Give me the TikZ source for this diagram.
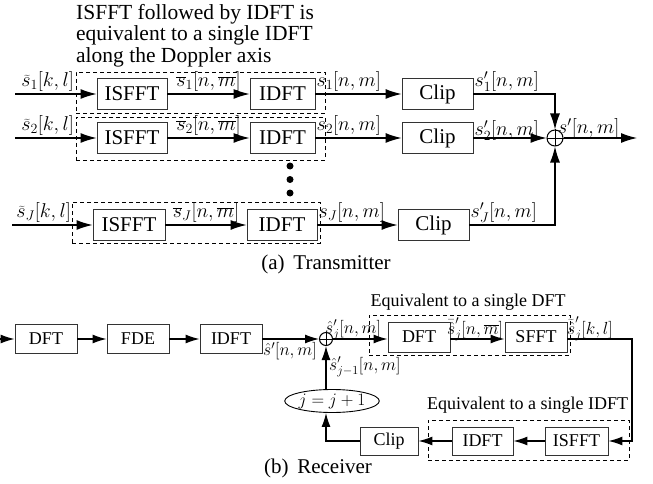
\RequirePackage{fix-cm}
\documentclass[tikz,border=0pt]{standalone}
\usepackage{fontspec}
\setmainfont{Liberation Serif}
\usetikzlibrary{arrows.meta,shapes.geometric,calc}
\begin{document}
\begin{tikzpicture}[x=1pt,y=-1pt,
  blk/.style={draw=black!80,line width=0.9pt,minimum height=31pt,inner sep=0pt,font=\fontsize{21}{21}\selectfont},
  rblk/.style={draw=black!80,line width=0.9pt,minimum height=29pt,inner sep=0pt,font=\fontsize{18}{18}\selectfont},
  grp/.style={draw,dash pattern=on 4pt off 3pt,line width=0.8pt,inner sep=0pt},
  ln/.style={line width=1.2pt},
  arr/.style={ln,-{Latex[length=16pt,width=10pt]}},
  rarr/.style={ln,-{Latex[length=14pt,width=9pt]}},
  lab/.style={inner sep=1pt,font=\fontsize{20}{20}\selectfont},
  rlab/.style={inner sep=1pt,font=\fontsize{17.5}{17.5}\selectfont},
  ttl/.style={inner sep=0pt,font=\fontsize{18}{18}\selectfont},
  dot/.style={circle,fill,inner sep=0pt,minimum size=7pt},
]
\useasboundingbox (0,0) rectangle (653,484);

% ---------- Transmitter ----------
\node[anchor=north west,align=left,inner sep=0pt,font=\fontsize{21.5}{21.5}\selectfont] (hdr) at (76,4)
  {ISFFT followed by IDFT is\\equivalent to a single IDFT\\along the Doppler axis};

\node[grp,minimum width=249pt,minimum height=41pt] (g1) at (200.5,92.5) {};
\node[grp,minimum width=249pt,minimum height=43pt] (g2) at (200.5,138.5) {};
\node[grp,minimum width=248pt,minimum height=41pt] (gJ) at (196,222.5) {};

\node[blk,minimum width=70pt] (is1) at (132,94) {ISFFT};
\node[blk,minimum width=65pt] (id1) at (282.5,94) {IDFT};
\node[blk,minimum width=71pt] (cl1) at (437.5,94) {Clip};

\node[blk,minimum width=70pt] (is2) at (132,138) {ISFFT};
\node[blk,minimum width=65pt] (id2) at (282.5,138) {IDFT};
\node[blk,minimum width=71pt] (cl2) at (437.5,138) {Clip};

\node[blk,minimum width=72pt] (isJ) at (129,225) {ISFFT};
\node[blk,minimum width=70pt] (idJ) at (282,225) {IDFT};
\node[blk,minimum width=71pt] (clJ) at (433.5,225) {Clip};

\node[dot] (d1) at (290,166) {};
\node[dot] (d2) at (290,179.5) {};
\node[dot] (d3) at (290,193) {};

\coordinate (in1) at (15,94);
\coordinate (in2) at (15,138);
\coordinate (inJ) at (12,225);

\node[circle,draw,line width=1pt,minimum size=16pt,inner sep=0pt] (sum) at (555,138) {};
\draw[line width=0.8pt] (sum.north) -- (sum.south) (sum.west) -- (sum.east);
\coordinate (out) at (637,138);

\draw[arr] (in1) -- (is1);
\draw[arr] (is1) -- (id1);
\draw[arr] (id1) -- (cl1);
\draw[arr] (in2) -- (is2);
\draw[arr] (is2) -- (id2);
\draw[arr] (id2) -- (cl2);
\draw[arr] (inJ) -- (isJ);
\draw[arr] (isJ) -- (idJ);
\draw[arr] (idJ) -- (clJ);
\draw[arr] (cl1.east) -| (sum.north);
\draw[arr] (cl2) -- (sum);
\draw[arr] (clJ.east) -| (sum.south);
\draw[arr] (sum) -- (out);

\node[lab,anchor=south east] (li1) at (75,93) {$\widetilde{s}_1[k,l]$};
\node[lab,anchor=south east] (li2) at (75,137) {$\widetilde{s}_2[k,l]$};
\node[lab,anchor=south east] (liJ) at (72,224) {$\widetilde{s}_J[k,l]$};
\node[lab,anchor=south] (lb1) at ($(is1.east)!0.5!(id1.west)+(0,-1)$) {$\overline{s}_1[n,\overline{m}]$};
\node[lab,anchor=south] (lb2) at ($(is2.east)!0.5!(id2.west)+(0,-1)$) {$\overline{s}_2[n,\overline{m}]$};
\node[lab,anchor=south] (lbJ) at ($(isJ.east)!0.5!(idJ.west)+(0,-1)$) {$\overline{s}_J[n,\overline{m}]$};
\node[lab,anchor=south west] (ls1) at ([yshift=1pt]id1.east) {$s_1[n,m]$};
\node[lab,anchor=south west] (ls2) at ([yshift=1pt]id2.east) {$s_2[n,m]$};
\node[lab,anchor=south west] (lsJ) at ([yshift=1pt]idJ.east) {$s_J[n,m]$};
\node[lab,anchor=south west] (lc1) at ([yshift=1pt]cl1.east) {$s'_1[n,m]$};
\node[lab,anchor=south west] (lc2) at ([yshift=-4pt]cl2.east) {$s'_2[n,m]$};
\node[lab,anchor=south west] (lcJ) at ([yshift=1pt]clJ.east) {$s'_J[n,m]$};
\node[lab,anchor=south west] (lo) at (557,140) {$s'[n,m]$};

\node[inner sep=0pt,font=\fontsize{21}{21}\selectfont] (capa) at (326,264) {(a)~\,Transmitter};

% ---------- Receiver ----------
\coordinate (rin) at (0,339);
\node[rblk,minimum width=62pt] (dft) at (46,339) {DFT};
\node[rblk,minimum width=62pt] (fde) at (138,339) {FDE};
\node[rblk,minimum width=62pt] (idft) at (231,339) {IDFT};
\node[circle,draw,line width=1pt,minimum size=13pt,inner sep=0pt] (c2) at (326,339) {};
\draw[line width=0.8pt] (c2.north) -- (c2.south) (c2.west) -- (c2.east);

\node[grp,minimum width=201pt,minimum height=40pt] (gr1) at (469.5,335) {};
\node[ttl] (t1) at (468,302) {Equivalent to a single DFT};
\node[rblk,minimum width=62pt,minimum height=30pt] (dftr) at (419,337) {DFT};
\node[rblk,minimum width=62pt,minimum height=30pt] (sfft) at (536,337) {SFFT};

\node[grp,minimum width=201pt,minimum height=40pt] (gr2) at (528.5,440) {};
\node[ttl] (t2) at (527.5,405) {Equivalent to a single IDFT};
\node[rblk,minimum width=63pt,minimum height=28pt] (isr) at (576.5,441) {ISFFT};
\node[rblk,minimum width=61pt,minimum height=28pt] (idr) at (482.5,441) {IDFT};
\node[rblk,minimum width=58pt,minimum height=28pt] (clr) at (389,441) {Clip};

\node[ellipse,draw,line width=0.9pt,minimum width=92pt,minimum height=23pt,inner sep=0pt,font=\fontsize{17.5}{17.5}\selectfont] (ell) at (332,401) {$j=j+1$};

\coordinate (tr) at (632,339);
\coordinate (br) at (632,441);

\draw[rarr] (rin) -- (dft);
\draw[rarr] (dft) -- (fde);
\draw[rarr] (fde) -- (idft);
\draw[rarr] (idft) -- (c2);
\draw[rarr] (c2) -- (c2 -| dftr.west);
\draw[rarr] (dftr.east |- c2) -- (sfft.west |- c2);
\draw[rarr] (sfft.east |- c2) -- (tr) -- (br) -- (isr.east);
\draw[rarr] (isr) -- (idr);
\draw[rarr] (idr) -- (clr);
\draw[rarr] (clr.west) -| (c2 |- ell.south);
\draw[rarr] (c2 |- ell.north) -- (c2.south);

\node[rlab,anchor=north west] (lr1) at (262,341) {$\hat{s}'[n,m]$};
\node[rlab,anchor=south west] (lr2) at (324,341) {$\hat{s}'_j[n,m]$};
\node[rlab,anchor=south west] (lr3) at (446,342) {$\bar{\hat{s}}'_j[n,\overline{m}]$};
\node[rlab,anchor=south west] (lr4) at (566,342) {$\widetilde{\hat{s}}'_j[k,l]$};
\node[rlab,anchor=west] (lr5) at (328,367) {$\hat{s}'_{j-1}[n,m]$};

\node[inner sep=0pt,font=\fontsize{21}{21}\selectfont] (capb) at (318,468) {(b)~\,Receiver};
\end{tikzpicture}
\end{document}
